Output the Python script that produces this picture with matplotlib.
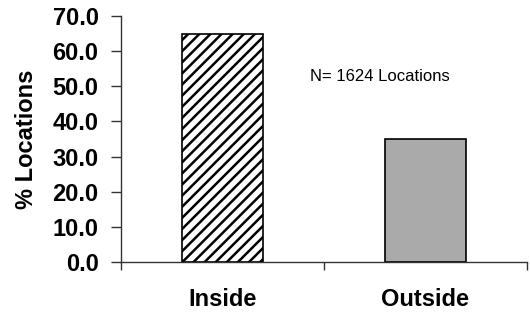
import matplotlib
matplotlib.use("Agg")
import matplotlib.pyplot as plt

# data
categories = ["Inside", "Outside"]
values = [64.9, 35.1]
y_ticks = [0, 10, 20, 30, 40, 50, 60, 70]
note = "N= 1624 Locations"

plt.rcParams["font.family"] = ["Liberation Sans", "DejaVu Sans"]
plt.rcParams["hatch.linewidth"] = 1.8

fig = plt.figure(figsize=(5.3, 3.14), dpi=100)
ax = fig.add_axes([0.228, 0.166, 0.766, 0.783])

x = range(len(categories))
bars = ax.bar(x, values, width=0.4, edgecolor="black", linewidth=1.2)
bars[0].set_facecolor("white")
bars[0].set_hatch("///")
bars[1].set_facecolor("#aaaaaa")

ax.set_xlim(-0.5, 1.5)
ax.set_ylim(0, 70)
ax.set_yticks(y_ticks)
ax.set_yticklabels([f"{v:.1f}" for v in y_ticks], fontsize=17, fontweight="bold")
ax.set_xticks(list(x))
ax.set_xticklabels(categories, fontsize=17, fontweight="bold")
ax.tick_params(axis="x", which="major", length=0, pad=19)
ax.set_xticks([-0.5, 0.5, 1.5], minor=True)
ax.tick_params(axis="x", which="minor", length=6, direction="out", width=1, color="#333333")
ax.tick_params(axis="y", length=7, direction="out", width=1, color="#333333", pad=9)

ax.set_ylabel("% Locations", fontsize=17, fontweight="bold")
ax.yaxis.set_label_coords(-0.205, 0.5)

for side in ["top", "right"]:
    ax.spines[side].set_visible(False)
for side in ["left", "bottom"]:
    ax.spines[side].set_color("#333333")
    ax.spines[side].set_linewidth(1)

ax.text(0.43, 52.7, note, fontsize=12, ha="left", va="center", transform=ax.transData)

fig.savefig("out.png", dpi=100)
